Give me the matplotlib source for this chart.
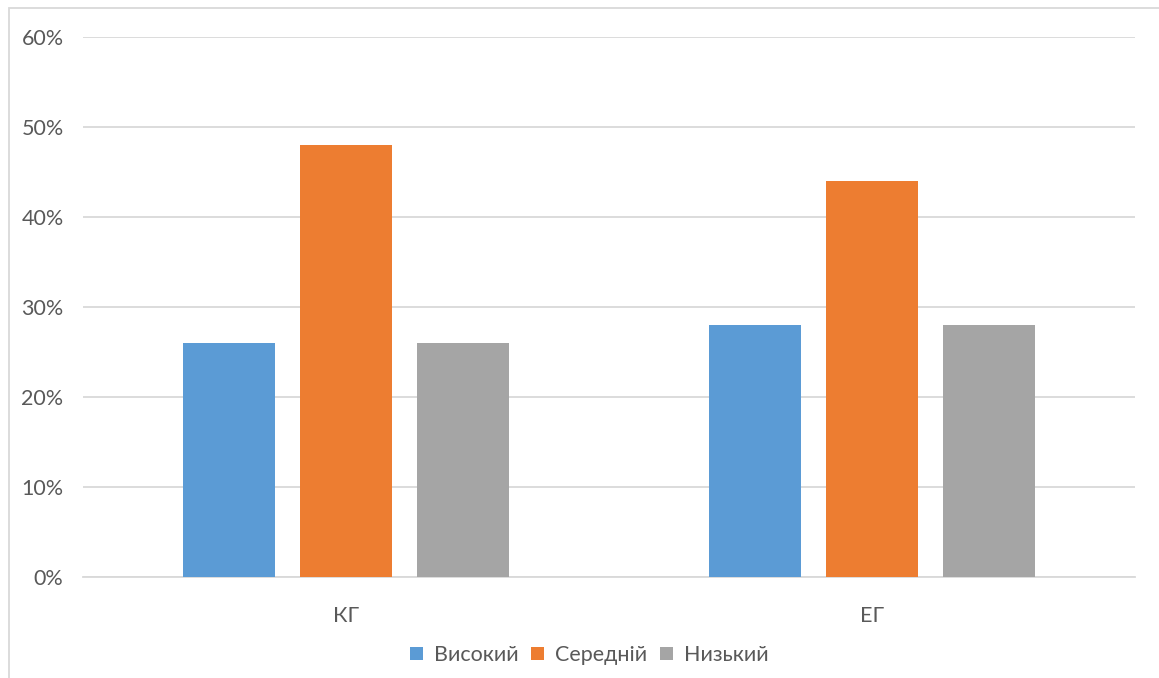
import matplotlib
matplotlib.use('Agg')
import matplotlib.pyplot as plt
from matplotlib.patches import Rectangle
import numpy as np

# дані з діаграми
groups = ['КГ', 'ЕГ']
levels = ['Високий', 'Середній', 'Низький']
vysokyi = [26, 28]
serednii = [48, 44]
nyzkyi = [26, 28]
series = [vysokyi, serednii, nyzkyi]
colors = ['#5b9bd5', '#ed7d31', '#a5a5a5']
yticks = [0, 10, 20, 30, 40, 50, 60]

plt.rcParams['font.family'] = ['Lato', 'DejaVu Sans']
text_col = '#595959'

W, H = 1159, 678
fig = plt.figure(figsize=(W / 100, H / 100), dpi=100)
ax = fig.add_axes([83 / W, 1 - 577 / H, (1135 - 83) / W, (577 - 37) / H])

x = np.arange(len(groups))
width = 92 / 526
step = 117 / 526
for i, (vals, col) in enumerate(zip(series, colors)):
    ax.bar(x + (i - 1) * step, vals, width, color=col, label=levels[i], zorder=3)

ax.set_xlim(-0.5, 1.5)
ax.set_ylim(0, 60)
ax.set_yticks(yticks)
ax.set_yticklabels([f'{v}%' for v in yticks])
ax.set_xticks(x)
ax.set_xticklabels(groups)
ax.grid(axis='y', color='#d9d9d9', linewidth=1.3, zorder=0)
for s in ['top', 'right', 'left']:
    ax.spines[s].set_visible(False)
ax.spines['bottom'].set_color('#d9d9d9')
ax.spines['bottom'].set_linewidth(1.3)
ax.tick_params(axis='both', length=0, colors=text_col, labelsize=15.5)
ax.tick_params(axis='y', pad=14)
ax.tick_params(axis='x', pad=21)

leg = fig.legend(loc='center', bbox_to_anchor=(589 / W, 1 - 655 / H), ncol=3,
                 frameon=False, fontsize=15.5, handlelength=0.6, handleheight=0.6,
                 handletextpad=0.5, columnspacing=0.6)
for t in leg.get_texts():
    t.set_color(text_col)

# рамка діаграми
fig.patches.append(Rectangle((8.5 / W, -0.1), 1.2, 1.1 - 8.5 / H, transform=fig.transFigure,
                             fill=False, edgecolor='#d9d9d9', linewidth=1.3))

fig.savefig('out.png', dpi=100)
